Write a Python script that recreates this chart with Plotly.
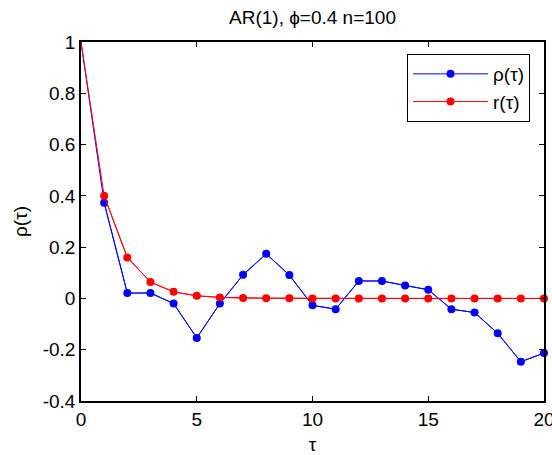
import plotly.graph_objects as go

tau = [0, 1, 2, 3, 4, 5, 6, 7, 8, 9, 10, 11, 12, 13, 14, 15, 16, 17, 18, 19, 20]
rho = [1.0, 0.373, 0.021, 0.021, -0.020, -0.154, -0.020, 0.092, 0.174, 0.091,
       -0.027, -0.042, 0.068, 0.068, 0.050, 0.034, -0.042, -0.055, -0.136, -0.247, -0.213]
r_theory = [1.0, 0.4, 0.16, 0.064, 0.0256, 0.0102, 0.0041, 0.0016, 0.0007, 0.0003,
            0.0001, 0.0, 0.0, 0.0, 0.0, 0.0, 0.0, 0.0, 0.0, 0.0, 0.0]
yticks = [-0.4, -0.2, 0, 0.2, 0.4, 0.6, 0.8, 1]
ytick_labels = ["-0.4", "-0.2", "0", "0.2", "0.4", "0.6", "0.8", "1"]
xticks = [0, 5, 10, 15, 20]
xtick_labels = ["0", "5", "10", "15", "20"]

FONT = "Liberation Sans, Arial, Helvetica, sans-serif"
BLUE = "#0000ff"
RED = "#ff0000"
FS = 19

fig = go.Figure()
for name, vals, col in [("ρ(τ)", rho, BLUE), ("r(τ)", r_theory, RED)]:
    fig.add_trace(go.Scatter(x=tau, y=vals, mode="lines", line=dict(color=col, width=1),
                             showlegend=False, hoverinfo="skip"))
    fig.add_trace(go.Scatter(x=tau[1:], y=vals[1:], mode="lines+markers", name=name,
                             line=dict(color=col, width=1),
                             marker=dict(color=col, size=8), cliponaxis=False))

axis_common = dict(showgrid=False, zeroline=False, showline=True, linecolor="black",
                   linewidth=1.5, mirror="ticks", ticks="inside", ticklen=5,
                   tickcolor="black", tickwidth=1, ticklabeloverflow="allow",
                   automargin=False,
                   tickfont=dict(family=FONT, size=FS, color="black"))

fig.update_layout(
    width=552, height=455,
    margin=dict(l=81, r=8, t=42, b=54, autoexpand=False),
    paper_bgcolor="white", plot_bgcolor="white",
    font=dict(family=FONT, color="black"),
    title=dict(text="AR(1), ϕ=0.4 n=100", x=(81 + 544) / 2 / 552, xanchor="center",
               y=1 - 17 / 455, yanchor="middle", font=dict(family=FONT, size=FS)),
    xaxis=dict(range=[0, 20], tickvals=xticks, ticktext=xtick_labels,
               title=dict(text="τ", font=dict(family=FONT, size=FS), standoff=21),
               **axis_common),
    yaxis=dict(range=[-0.4, 1], tickvals=yticks, ticktext=ytick_labels,
               title=dict(text="ρ(τ)", font=dict(family=FONT, size=FS), standoff=10),
               **axis_common),
    legend=dict(x=(407 - 81) / 463, y=(401 - 54) / 359, xanchor="left", yanchor="top",
                bordercolor="black", borderwidth=1, bgcolor="white",
                font=dict(family=FONT, size=FS), tracegroupgap=0, itemwidth=75),
)

fig.write_html("out.html")
